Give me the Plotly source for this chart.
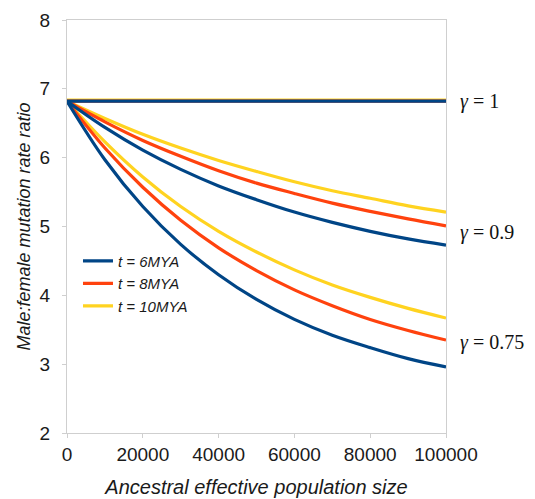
import plotly.graph_objects as go

# Ancestral effective population size (x)
pop_size = [0, 10000, 20000, 30000, 40000, 50000, 60000, 70000, 80000, 90000, 100000]

# gamma = 1 (flat)
g100_t6 = [6.82] * 11
g100_t8 = [6.82] * 11
g100_t10 = [6.835] * 11

# gamma = 0.9
g090_t6 = [6.82, 6.44, 6.11, 5.83, 5.59, 5.39, 5.21, 5.06, 4.93, 4.82, 4.73]
g090_t8 = [6.82, 6.52, 6.25, 6.02, 5.81, 5.63, 5.48, 5.34, 5.22, 5.11, 5.01]
g090_t10 = [6.82, 6.57, 6.34, 6.14, 5.96, 5.80, 5.65, 5.52, 5.41, 5.30, 5.21]

# gamma = 0.75
g075_t6 = [6.82, 5.97, 5.29, 4.74, 4.30, 3.94, 3.65, 3.42, 3.24, 3.08, 2.96]
g075_t8 = [6.82, 6.14, 5.57, 5.09, 4.69, 4.36, 4.08, 3.85, 3.65, 3.49, 3.35]
g075_t10 = [6.82, 6.23, 5.72, 5.29, 4.93, 4.63, 4.37, 4.15, 3.97, 3.81, 3.67]

series_names = ["t = 6MYA", "t = 8MYA", "t = 10MYA"]
series_colors = ["#004586", "#ff420e", "#ffd320"]

gamma_labels = ["γ = 1", "γ = 0.9", "γ = 0.75"]
gamma_label_y = [6.82, 4.92, 3.31]

x_ticks = [0, 20000, 40000, 60000, 80000, 100000]
y_ticks = [2, 3, 4, 5, 6, 7, 8]

groups = [
    [g100_t6, g100_t8, g100_t10],
    [g090_t6, g090_t8, g090_t10],
    [g075_t6, g075_t8, g075_t10],
]

SANS = "Liberation Sans, Arial, sans-serif"

fig = go.Figure()
# draw yellow first, blue last (blue on top)
for si in [2, 1, 0]:
    for gi, grp in enumerate(groups):
        fig.add_trace(go.Scatter(
            x=pop_size, y=grp[si], mode="lines",
            line=dict(color=series_colors[si], width=3.2, shape="spline", smoothing=1),
            name=series_names[si].replace("t =", "<i>t</i> ="),
            legendgroup="all",
            showlegend=(gi == 2), legendrank=si + 1,
        ))

for lab, yv in zip(gamma_labels, gamma_label_y):
    fig.add_annotation(
        x=1, xref="paper", y=yv, yref="y", xanchor="left", yanchor="middle",
        xshift=12, showarrow=False,
        text=lab.replace("γ", "<i>γ</i>"),
        font=dict(family="Liberation Serif, Times New Roman, serif", size=20, color="#111"),
    )

axis_common = dict(
    showline=True, linecolor="#cfcfcf", linewidth=1, mirror=True,
    showgrid=False, zeroline=False, automargin=False,
    ticks="outside", ticklen=4, tickcolor="#cfcfcf",
    ticklabeloverflow="allow",
    tickfont=dict(family=SANS, size=19, color="#1a1a1a"),
)

fig.update_xaxes(
    range=[0, 100000], tickvals=x_ticks, ticktext=[str(v) for v in x_ticks],
    title=dict(text="<i>Ancestral effective population size</i>",
               font=dict(family=SANS, size=20, color="#1a1a1a"),
               standoff=16),
    **axis_common,
)
fig.update_yaxes(
    range=[2, 8], tickvals=y_ticks, ticklabelstandoff=8,
    title=dict(text="<i>Male:female mutation rate ratio</i>",
               font=dict(family=SANS, size=18, color="#1a1a1a"),
               standoff=4),
    **axis_common,
)

# page body has an 8px margin; size the figure so the plot lands where the original does
fig.update_layout(
    width=527, height=491,
    margin=dict(l=59, r=89, t=12, b=66),
    paper_bgcolor="white", plot_bgcolor="white",
    legend=dict(
        x=0.029, y=0.456, xanchor="left", yanchor="top",
        bgcolor="rgba(0,0,0,0)", tracegroupgap=0,
        font=dict(family=SANS, size=15, color="#1a1a1a", style="italic"),
        itemwidth=30,
    ),
)

fig.write_html("out.html")
